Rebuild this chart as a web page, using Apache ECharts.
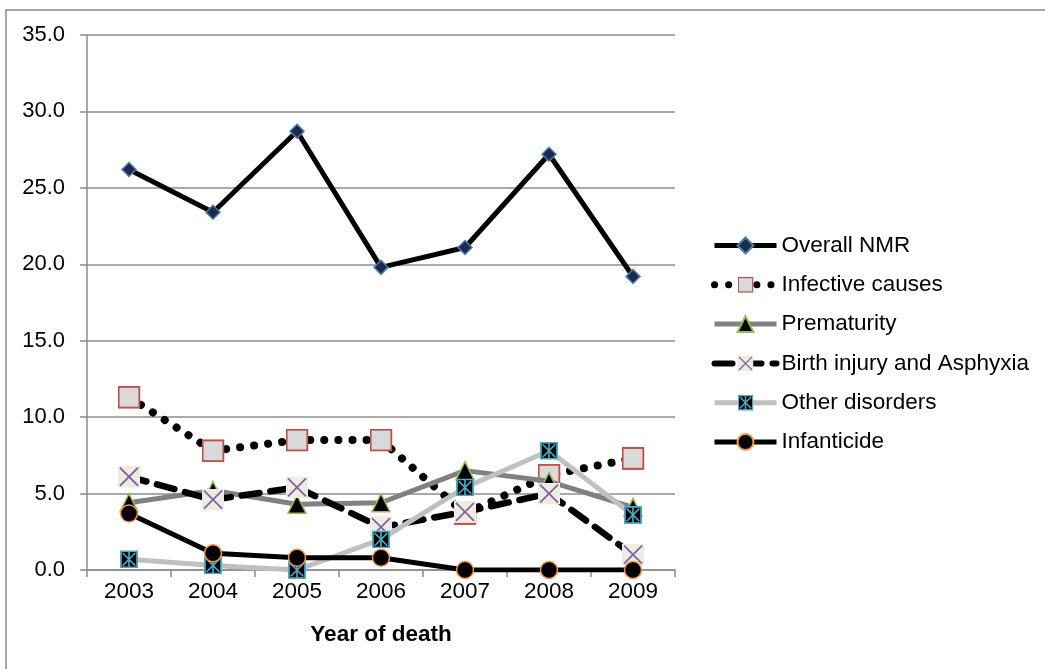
<!DOCTYPE html>
<html>
<head>
<meta charset="utf-8">
<script src="https://cdn.jsdelivr.net/npm/echarts@6/dist/echarts.min.js"></script>
<style>html,body{margin:0;padding:0;background:#fff}#c{width:1045px;height:669px}</style>
</head>
<body>
<div id="c"></div>
<script>
const years = ['2003','2004','2005','2006','2007','2008','2009'];
const overallNMR = [26.2, 23.4, 28.7, 19.8, 21.1, 27.2, 19.2];
const infective = [11.3, 7.8, 8.5, 8.5, 3.7, 6.2, 7.3];
const prematurity = [4.4, 5.2, 4.3, 4.4, 6.5, 5.8, 4.1];
const birthInjury = [6.1, 4.6, 5.4, 2.8, 3.8, 5.0, 1.0];
const otherDisorders = [0.7, 0.3, 0.0, 2.0, 5.4, 7.8, 3.6];
const infanticide = [3.7, 1.1, 0.8, 0.8, 0.0, 0.0, 0.0];

function svgSym(svg){ return 'image://data:image/svg+xml;utf8,' + encodeURIComponent(svg); }
const xSym = svgSym('<svg xmlns="http://www.w3.org/2000/svg" width="22" height="22" viewBox="0 0 22 22"><rect x="0" y="0" width="22" height="22" fill="#eeece1"/><path d="M2 2L20 20M20 2L2 20" stroke="#8064a2" stroke-width="1.8"/></svg>');
const starSym = svgSym('<svg xmlns="http://www.w3.org/2000/svg" width="20" height="20" viewBox="0 0 20 20"><rect x="1" y="1" width="18" height="18" fill="#000" stroke="#4bacc6" stroke-width="2"/><path d="M3 3L17 17M17 3L3 17M10 1V19" stroke="#4bacc6" stroke-width="1.8"/></svg>');
const sqSym = svgSym('<svg xmlns="http://www.w3.org/2000/svg" width="22" height="22" viewBox="0 0 22 22"><rect x="1" y="1" width="20" height="20" fill="#d9d9d9" stroke="#c0504d" stroke-width="2"/></svg>');

const chart = echarts.init(document.getElementById('c'));
const font = 'Liberation Sans, Arial, sans-serif';
chart.setOption({
  animation: false,
  textStyle: {fontFamily: font},
  graphic: [{type:'rect', shape:{x:6,y:10,width:1100,height:700}, style:{fill:'none', stroke:'#8c8c8c', lineWidth:1.5}, silent:true}],
  grid: {left: 87, top: 35, right: 370, bottom: 99},
  xAxis: {
    type: 'category', data: years, boundaryGap: true,
    axisLine: {lineStyle: {color: '#8c8c8c', width: 1.5}},
    axisTick: {show: true, length: 7, lineStyle: {color: '#8c8c8c', width: 1.5}},
    axisLabel: {color: '#000', fontSize: 22.5, margin: 10, fontFamily: font},
    name: 'Year of death', nameLocation: 'middle', nameGap: 53,
    nameTextStyle: {color: '#000', fontSize: 22.5, fontWeight: 'bold', fontFamily: font}
  },
  yAxis: {
    type: 'value', min: 0, max: 35, interval: 5,
    axisLine: {show: true, lineStyle: {color: '#8c8c8c', width: 1.5}},
    axisTick: {show: true, length: 7, lineStyle: {color: '#8c8c8c', width: 1.5}},
    splitLine: {lineStyle: {color: '#8c8c8c', width: 1.5}},
    axisLabel: {color: '#000', fontSize: 22, margin: 22, fontFamily: font, formatter: v => v.toFixed(1)}
  },
  legend: {
    orient: 'vertical', left: 706, top: 229, itemWidth: 62, itemHeight: 20, itemGap: 16.3,
    textStyle: {color: '#000', fontSize: 22.5, fontFamily: font},
    data: [
      {name: 'Overall NMR', lineStyle: {width: 5}},
      {name: 'Infective causes', lineStyle: {width: 7}},
      {name: 'Prematurity', lineStyle: {width: 5}},
      {name: 'Birth injury and Asphyxia', lineStyle: {width: 6}},
      {name: 'Other disorders', lineStyle: {width: 5}},
      {name: 'Infanticide', lineStyle: {width: 5}}
    ]
  },
  series: [
    {name: 'Overall NMR', type: 'line', data: overallNMR, symbol: 'diamond', symbolSize: 14,
     lineStyle: {color: '#000', width: 5}, itemStyle: {color: '#1f2a44', borderColor: '#4a7ebb', borderWidth: 1.5}, z: 8},
    {name: 'Infective causes', type: 'line', data: infective, symbol: sqSym, symbolSize: 23,
     lineStyle: {color: '#000', width: 8, type: [0.1, 14], cap: 'round'}, itemStyle: {color: '#d9d9d9', borderColor: '#c0504d'}, z: 3},
    {name: 'Prematurity', type: 'line', data: prematurity, symbol: 'triangle', symbolSize: 18,
     lineStyle: {color: '#808080', width: 5}, itemStyle: {color: '#000', borderColor: '#9bbb59', borderWidth: 1.5}, z: 4},
    {name: 'Birth injury and Asphyxia', type: 'line', data: birthInjury, symbol: xSym, symbolSize: 22,
     lineStyle: {color: '#000', width: 6.5, type: [18, 11], cap: 'round'}, itemStyle: {color: '#eeece1', borderColor: '#8064a2'}, z: 5},
    {name: 'Other disorders', type: 'line', data: otherDisorders, symbol: starSym, symbolSize: 18,
     lineStyle: {color: '#c0c0c0', width: 5}, itemStyle: {color: '#000', borderColor: '#4bacc6'}, z: 6},
    {name: 'Infanticide', type: 'line', data: infanticide, symbol: 'circle', symbolSize: 17,
     lineStyle: {color: '#000', width: 5}, itemStyle: {color: '#000', borderColor: '#f79646', borderWidth: 1.5}, z: 7}
  ]
});
</script>
</body>
</html>
